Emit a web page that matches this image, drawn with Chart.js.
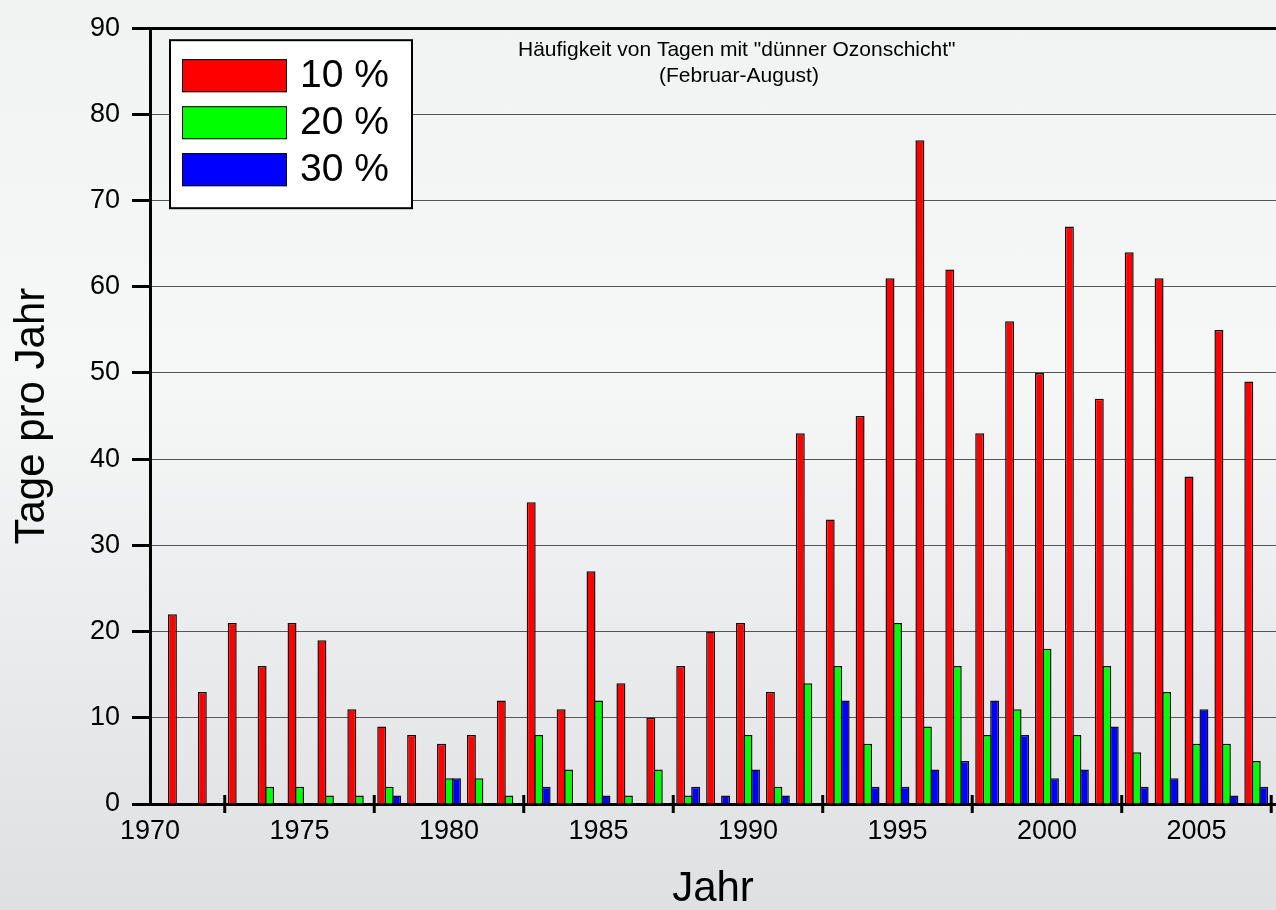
<!DOCTYPE html>
<html>
<head>
<meta charset="utf-8">
<script src="https://cdn.jsdelivr.net/npm/chart.js@4.4.0/dist/chart.umd.min.js"></script>
<style>
  html, body { margin: 0; padding: 0; }
  body { width: 1276px; height: 910px; background: linear-gradient(#f1f2f2 0%, #f6f7f7 40%, #dfe0e2 100%); }
  #wrap { position: relative; width: 1276px; height: 910px; }
</style>
</head>
<body>
<div id="wrap"><canvas id="myChart"></canvas></div>
<script>
let years = [1971, 1972, 1973, 1974, 1975, 1976, 1977, 1978, 1979, 1980,
             1981, 1982, 1983, 1984, 1985, 1986, 1987, 1988, 1989, 1990,
             1991, 1992, 1993, 1994, 1995, 1996, 1997, 1998, 1999, 2000,
             2001, 2002, 2003, 2004, 2005, 2006, 2007];
let tage10 = [22, 13, 21, 16, 21, 19, 11, 9, 8, 7,
              8, 12, 35, 11, 27, 14, 10, 16, 20, 21,
              13, 43, 33, 45, 61, 77, 62, 43, 56, 50,
              67, 47, 64, 61, 38, 55, 49];
let tage20 = [0, 0, 0, 2, 2, 1, 1, 2, 0, 3,
              3, 1, 8, 4, 12, 1, 4, 1, 0, 8,
              2, 14, 16, 7, 21, 9, 16, 8, 11, 18,
              8, 16, 6, 13, 7, 7, 5];
let tage30 = [0, 0, 0, 0, 0, 0, 0, 1, 0, 3,
              0, 0, 2, 0, 1, 0, 0, 2, 1, 4,
              1, 0, 12, 2, 2, 4, 5, 12, 8, 3,
              4, 9, 2, 3, 11, 1, 2];
let seriesNames = ['10 %', '20 %', '30 %'];
let xTickLabels = [1970, 1975, 1980, 1985, 1990, 1995, 2000, 2005];
let xTickMarks = [1972.5, 1977.5, 1982.5, 1987.5, 1992.5, 1997.5, 2002.5, 2007.5];
let yTickLabels = [0, 10, 20, 30, 40, 50, 60, 70, 80, 90];
let titleLines = ['Häufigkeit von Tagen mit "dünner Ozonschicht"', '(Februar-August)'];

Chart.defaults.font.family = '"Liberation Sans", Arial, sans-serif';
Chart.defaults.color = '#000';

// extra drawing: axis tick marks between years, inner title, boxed legend
let extras = {
  id: 'extras',
  afterDraw(chart) {
    const ctx = chart.ctx;
    const area = chart.chartArea;
    const x = chart.scales.x;
    ctx.save();
    ctx.strokeStyle = '#000';
    ctx.lineWidth = 3;
    xTickMarks.forEach(v => {
      const px = x.getPixelForValue(v);
      ctx.beginPath();
      ctx.moveTo(px, area.bottom - 9);
      ctx.lineTo(px, area.bottom + 9);
      ctx.stroke();
    });

    ctx.fillStyle = '#000';
    ctx.font = '21px "Liberation Sans", Arial, sans-serif';
    ctx.textAlign = 'left';
    ctx.textBaseline = 'alphabetic';
    ctx.fillText(titleLines[0], area.left + 368, area.top + 28);
    ctx.fillText(titleLines[1], area.left + 509, area.top + 54);

    const bx = area.left + 20, by = area.top + 12;
    ctx.fillStyle = '#fff';
    ctx.fillRect(bx, by, 242, 168);
    ctx.lineWidth = 2;
    ctx.strokeRect(bx, by, 242, 168);
    chart.data.datasets.forEach((ds, i) => {
      const sy = by + 19 + i * 47;
      ctx.fillStyle = ds.backgroundColor;
      ctx.fillRect(bx + 12, sy, 105, 33);
      ctx.lineWidth = 1;
      ctx.strokeStyle = '#000';
      ctx.strokeRect(bx + 12.5, sy + 0.5, 104, 32);
      ctx.fillStyle = '#000';
      ctx.font = '39px "Liberation Sans", Arial, sans-serif';
      ctx.textBaseline = 'middle';
      ctx.fillText(ds.label, bx + 130, sy + 17);
    });
    ctx.restore();
  }
};

let myChart = document.getElementById('myChart').getContext('2d');
let barChart = new Chart(myChart, {
  type: 'bar',
  data: {
    labels: years,
    datasets: [
      { label: seriesNames[0], data: tage10, backgroundColor: '#ff0000' },
      { label: seriesNames[1], data: tage20, backgroundColor: '#00ff00' },
      { label: seriesNames[2], data: tage30, backgroundColor: '#0000ff' }
    ]
  },
  options: {
    responsive: true,
    maintainAspectRatio: false,
    animation: false,
    layout: { padding: { top: 24, right: 0, left: 0, bottom: 0 } },
    datasets: {
      bar: { categoryPercentage: 0.75, barPercentage: 1.2, borderWidth: 1.5, borderColor: '#111', borderSkipped: 'start' }
    },
    plugins: { legend: { display: false }, tooltip: { enabled: false } },
    scales: {
      x: {
        type: 'linear',
        offset: false,
        min: 1970,
        max: 2007.66,
        afterBuildTicks: s => { s.ticks = xTickLabels.map(v => ({ value: v })); },
        afterFit: s => { s.height = 106; },
        grid: { display: false, drawTicks: false },
        border: { display: true, color: '#000', width: 3 },
        ticks: { font: { size: 27 }, padding: 11, maxRotation: 0, autoSkip: false, callback: v => String(v) },
        title: { display: true, text: 'Jahr', font: { size: 42, lineHeight: 1 }, padding: 0 }
      },
      y: {
        min: 0,
        max: 90,
        afterBuildTicks: s => { s.ticks = yTickLabels.map(v => ({ value: v })); },
        afterFit: s => { s.width = 150; },
        grid: {
          color: c => (c.tick && c.tick.value === 90 ? '#000' : '#555'),
          lineWidth: c => (c.tick && c.tick.value === 90 ? 3 : 1),
          tickColor: '#000',
          tickWidth: 3,
          tickLength: 18
        },
        border: { display: true, color: '#000', width: 3 },
        ticks: { font: { size: 27 }, padding: 12 },
        title: { display: true, text: 'Tage pro Jahr', font: { size: 42, lineHeight: 1 }, padding: { top: 11, bottom: 0 } }
      }
    }
  },
  plugins: [extras]
});
</script>
</body>
</html>
